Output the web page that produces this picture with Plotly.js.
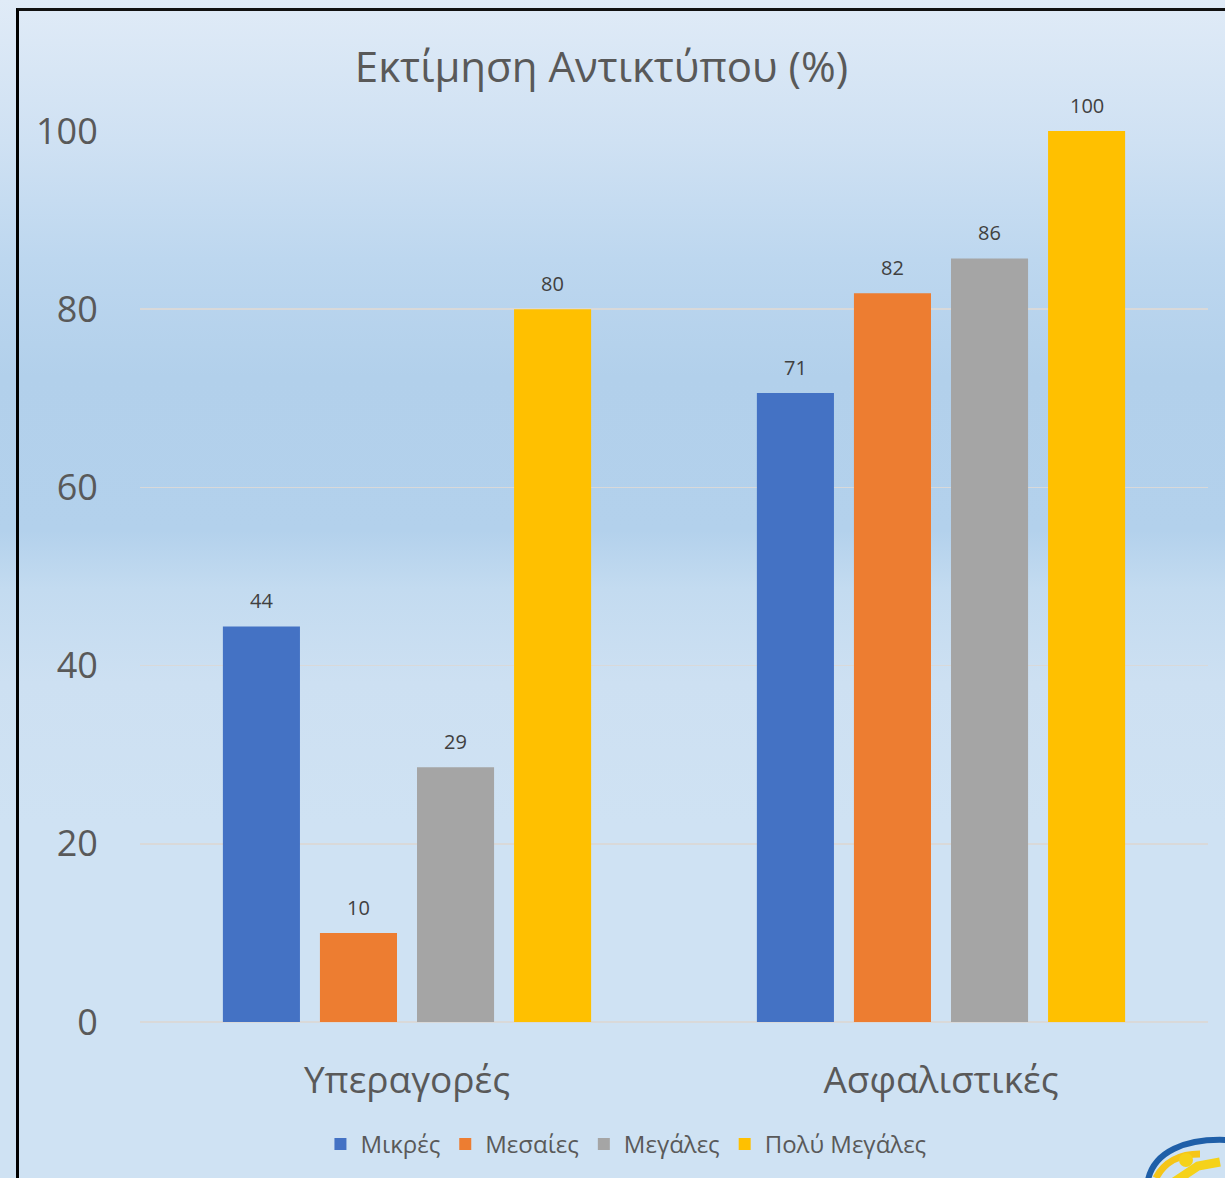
<!DOCTYPE html>
<html>
<head>
<meta charset="utf-8">
<script src="https://cdn.plot.ly/plotly-3.0.1.min.js"></script>
<style>
  html, body { margin: 0; padding: 0; }
  body {
    width: 1225px; height: 1178px; overflow: hidden; position: relative;
    background: linear-gradient(to bottom, #e0ebf7 0%, #cfe1f3 12%, #bdd7ef 22%, #b2d0eb 32%, #b3d1ec 45%, #c3dbf0 50%, #cde0f2 58%, #cfe2f3 70%, #cfe2f3 100%);
  }
  #frame {
    position: absolute; left: 16px; top: 8px; width: 1300px; height: 1300px;
    border-left: 3px solid #000; border-top: 3px solid #111;
    pointer-events: none;
  }
  #chart { position: absolute; left: 0; top: 0; width: 1225px; height: 1178px; }
  #logo { position: absolute; left: 1140px; top: 1132px; }
</style>
</head>
<body>
<div id="chart"></div>
<div id="frame"></div>
<svg id="logo" width="90" height="60" viewBox="0 0 90 60">
  <path d="M8 48 C 14 20, 45 6, 88 8" stroke="#1f5fa8" stroke-width="6" fill="none"/>
  <path d="M16 46 C 24 30, 40 22, 60 22" stroke="#f5c518" stroke-width="7" fill="none"/>
  <circle cx="46" cy="28" r="7" fill="#f5d21a"/>
  <path d="M34 50 L 58 34 L 80 30" stroke="#f5d21a" stroke-width="9" fill="none"/>
</svg>
<script>
const categories = ["Υπεραγορές", "Ασφαλιστικές"];
const seriesNames = ["Μικρές", "Μεσαίες", "Μεγάλες", "Πολύ Μεγάλες"];
const mikres = [44.4, 70.6];
const mesaies = [10.0, 81.8];
const megales = [28.6, 85.7];
const polyMegales = [80.0, 100.0];
const seriesValues = [mikres, mesaies, megales, polyMegales];
const seriesColors = ["#4472c4", "#ed7d31", "#a5a5a5", "#ffc000"];
const yTicks = [0, 20, 40, 60, 80, 100];

const FONT = "Open Sans, sans-serif";
const slotPx = 97; // pixel pitch of bars within a group (style)

const traces = seriesValues.map((vals, i) => ({
  type: "bar",
  name: seriesNames[i],
  x: categories,
  y: vals,
  marker: { color: seriesColors[i], line: { width: 0 } },
  hoverinfo: "none"
}));

const annotations = [];
seriesValues.forEach((vals, i) => {
  vals.forEach((v, j) => {
    annotations.push({
      x: categories[j], y: v, xref: "x", yref: "y",
      text: String(Math.round(v)),
      showarrow: false,
      xanchor: "center", yanchor: "bottom",
      xshift: (i - 1.5) * slotPx, yshift: 10,
      font: { family: FONT, size: 20, color: "#404040" }
    });
  });
});

const layout = {
  width: 1225, height: 1178,
  paper_bgcolor: "rgba(0,0,0,0)",
  plot_bgcolor: "rgba(0,0,0,0)",
  margin: { l: 140, r: 17, t: 131, b: 155 },
  barmode: "group",
  bargap: 0.273,
  bargroupgap: 0.206,
  title: {
    text: "Εκτίμηση Αντικτύπου (%)",
    font: { family: FONT, size: 42, color: "#595959" },
    x: 0.491, xanchor: "center", xref: "container",
    y: 0.943, yanchor: "middle", yref: "container"
  },
  xaxis: {
    tickfont: { family: FONT, size: 37, color: "#595959" },
    showline: false, showgrid: false,
    ticks: "outside", ticklen: 26, tickcolor: "rgba(0,0,0,0)",
    automargin: false
  },
  yaxis: {
    range: [0, 100],
    tickvals: yTicks,
    ticktext: yTicks.map(String),
    tickfont: { family: FONT, size: 36, color: "#595959" },
    showgrid: true, gridcolor: "#d9d9d9", gridwidth: 1.5,
    zeroline: true, zerolinecolor: "#d9d9d9", zerolinewidth: 1.5,
    showline: false, ticks: "outside", ticklen: 34, tickcolor: "rgba(0,0,0,0)",
    automargin: false
  },
  annotations: annotations,
  showlegend: true,
  legend: {
    orientation: "h",
    x: 0.455, xanchor: "center",
    y: -0.136, yanchor: "middle",
    font: { family: FONT, size: 24, color: "#595959" },
    bgcolor: "rgba(0,0,0,0)",
    itemwidth: 30,
    traceorder: "normal"
  }
};

Plotly.newPlot("chart", traces, layout, { displayModeBar: false, staticPlot: true });
</script>
</body>
</html>
